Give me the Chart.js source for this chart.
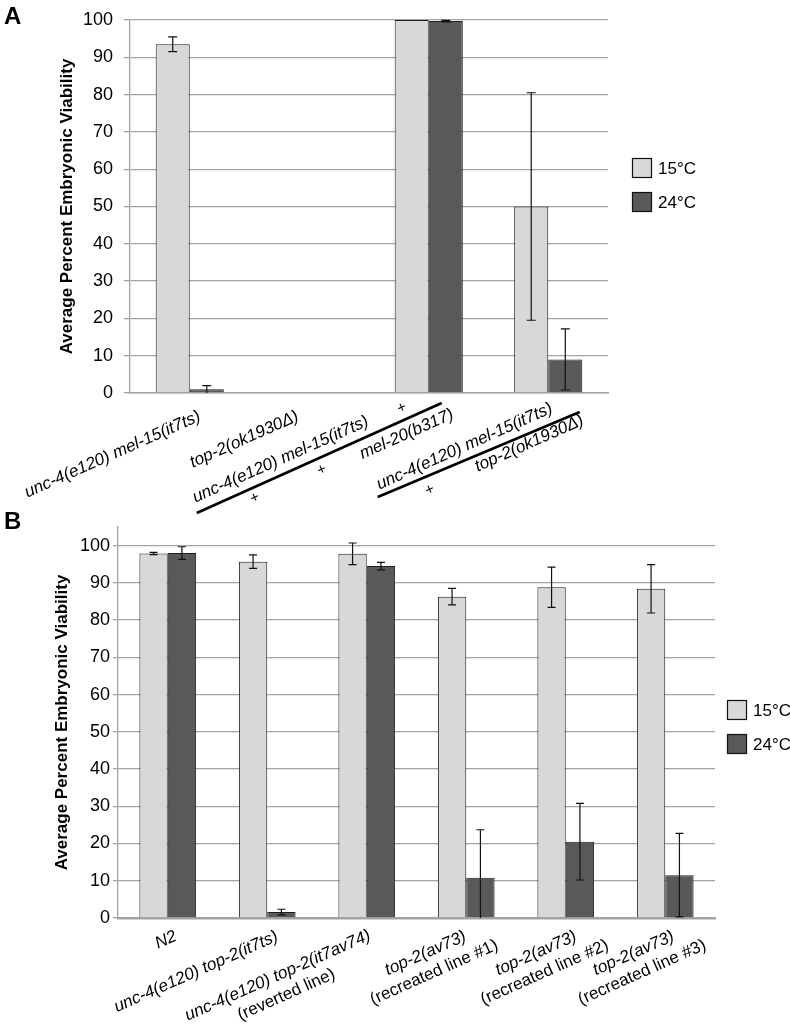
<!DOCTYPE html>
<html>
<head>
<meta charset="utf-8">
<script src="https://cdn.jsdelivr.net/npm/chart.js@4.4.0/dist/chart.umd.min.js"></script>
<style>
  html, body { margin: 0; padding: 0; background: #fff; }
  .wrap { position: absolute; left: 0; width: 790px; }
  .letter { position: absolute; left: 4px; font: bold 24px "Liberation Sans", Arial, sans-serif; color: #000; }
</style>
</head>
<body>
<div class="wrap" style="top:0;height:540px"><canvas id="chartA" width="790" height="540"></canvas></div>
<div class="wrap" style="top:470px;height:559px"><canvas id="chartB" width="790" height="559"></canvas></div>
<div class="letter" style="top:2px">A</div>
<div class="letter" style="top:507px">B</div>
<script>
// ---- data ----
const seriesNames = ['15°C', '24°C'];
const yTicks = [0, 10, 20, 30, 40, 50, 60, 70, 80, 90, 100];

// panel A (fraction labels are split into pieces: genotype text and '+')
const categoriesA = [
    ['unc-4(e120) mel-15(it7ts)'],
    ['top-2(ok1930Δ)'],
    ['unc-4(e120) mel-15(it7ts)', '+', '+', '+', 'mel-20(b317)'],
    ['unc-4(e120) mel-15(it7ts)', '+', 'top-2(ok1930Δ)']
];
const viab15A = [93.5, null, 100, 50];
const err15A  = [2, null, 0, 30.5];
const viab24A = [1, null, 99.7, 9];
const err24A  = [1, null, 0.2, 8.2];

// panel B
const categoriesB = [
    ['N2'],
    ['unc-4(e120) top-2(it7ts)'],
    ['unc-4(e120) top-2(it7av74)', '(reverted line)'],
    ['top-2(av73)', '(recreated line #1)'],
    ['top-2(av73)', '(recreated line #2)'],
    ['top-2(av73)', '(recreated line #3)']
];
const viab15B = [97.9, 95.7, 97.8, 86.3, 88.8, 88.4];
const err15B  = [0.3, 1.8, 2.9, 2.2, 5.4, 6.5];
const viab24B = [98, 1.6, 94.5, 10.8, 20.5, 11.5];
const err24B  = [1.7, 0.75, 1, 12.9, 10.3, 11.2];

// ---- label placement (offsets from category centre / axis line) ----
const placeA = [
    { pieces: [[12, 27, 'right']] },
    { pieces: [[-9.5, 27, 'right']] },
    { pieces: [[-59, 32, 'right'], [-27, 15, 'center'], [-174, 105, 'center'], [-107, 77, 'center'], [26, 25, 'right']],
      bar: [-232, 120, 13, 10] },
    { pieces: [[5.5, 19, 'right'], [-118.5, 97, 'center'], [36.5, 31, 'right']],
      bar: [-170.5, 104, 31.5, 19] }
];
const placeB = [[10, 22], [12, 22], [5, 21], [1, 22], [12, 22], [10, 22]];

const LIGHT = '#d8d8d8';
const DARK = '#595959';
const GRID = '#a3a3a3';
const FAM = '"Liberation Sans", Arial, sans-serif';
const ANGLE = -24 * Math.PI / 180;

Chart.defaults.font.family = FAM;
Chart.defaults.color = '#111';

function rotText(ctx, str, x, y, font, align, baseline) {
    ctx.save();
    ctx.translate(x, y);
    ctx.rotate(ANGLE);
    ctx.font = font;
    ctx.fillStyle = '#000';
    ctx.textAlign = align;
    ctx.textBaseline = baseline;
    ctx.fillText(str, 0, 0);
    ctx.restore();
}

// error bars, clipped at 0 like the original
function errorBarPlugin(capW) {
    return {
        id: 'errorBars',
        afterDatasetsDraw(chart) {
            const ctx = chart.ctx;
            const y = chart.scales.y;
            chart.data.datasets.forEach(function(ds, di) {
                const meta = chart.getDatasetMeta(di);
                meta.data.forEach(function(bar, i) {
                    const v = ds.data[i], e = ds.errors[i];
                    if (v == null || !e) return;
                    const lo = Math.max(v - e, 0);
                    const yt = y.getPixelForValue(v + e);
                    const yb = y.getPixelForValue(lo);
                    ctx.save();
                    ctx.strokeStyle = '#111';
                    ctx.lineWidth = 1.2;
                    ctx.beginPath();
                    ctx.moveTo(bar.x, yt); ctx.lineTo(bar.x, yb);
                    ctx.moveTo(bar.x - capW / 2, yt); ctx.lineTo(bar.x + capW / 2, yt);
                    if (lo > 0) { ctx.moveTo(bar.x - capW / 2, yb); ctx.lineTo(bar.x + capW / 2, yb); }
                    ctx.stroke();
                    ctx.restore();
                });
            });
        }
    };
}

function legendPlugin(lx, ly, gap) {
    return {
        id: 'tempLegend',
        afterDraw(chart) {
            const ctx = chart.ctx;
            chart.data.datasets.forEach(function(ds, i) {
                const top = ly + i * gap;
                ctx.save();
                ctx.fillStyle = ds.backgroundColor;
                ctx.fillRect(lx, top, 20, 20);
                ctx.strokeStyle = '#111';
                ctx.lineWidth = 1.2;
                ctx.strokeRect(lx + 0.5, top + 0.5, 19, 19);
                ctx.font = '17px ' + FAM;
                ctx.fillStyle = '#000';
                ctx.textBaseline = 'middle';
                ctx.fillText(ds.label, lx + 26, top + 11);
                ctx.restore();
            });
        }
    };
}

const labelsA = {
    id: 'labelsA',
    afterDraw(chart) {
        const ctx = chart.ctx;
        const xs = chart.scales.x;
        const base = chart.chartArea.bottom;
        categoriesA.forEach(function(parts, i) {
            const cx = xs.getPixelForValue(i);
            const lay = placeA[i];
            parts.forEach(function(str, k) {
                const p = lay.pieces[k];
                if (str === '+') {
                    rotText(ctx, str, cx + p[0], base + p[1], '15px ' + FAM, 'center', 'middle');
                } else {
                    rotText(ctx, str, cx + p[0], base + p[1], 'italic 17px ' + FAM, p[2], 'alphabetic');
                }
            });
            if (lay.bar) {
                const b = lay.bar;
                ctx.save();
                ctx.strokeStyle = '#000';
                ctx.lineWidth = 2.6;
                ctx.beginPath();
                ctx.moveTo(cx + b[0], base + b[1]);
                ctx.lineTo(cx + b[2], base + b[3]);
                ctx.stroke();
                ctx.restore();
            }
        });
    }
};

const labelsB = {
    id: 'labelsB',
    afterDraw(chart) {
        const ctx = chart.ctx;
        const xs = chart.scales.x;
        const base = chart.chartArea.bottom;
        categoriesB.forEach(function(lines, i) {
            const cx = xs.getPixelForValue(i);
            const p = placeB[i];
            ctx.save();
            ctx.translate(cx + p[0], base + p[1]);
            ctx.rotate(ANGLE);
            ctx.fillStyle = '#000';
            ctx.textBaseline = 'alphabetic';
            ctx.font = 'italic 17px ' + FAM;
            const w1 = ctx.measureText(lines[0]).width;
            ctx.textAlign = 'right';
            ctx.fillText(lines[0], 0, 0);
            ctx.font = '17px ' + FAM;
            ctx.textAlign = 'center';
            for (let k = 1; k < lines.length; k++) {
                ctx.fillText(lines[k], -w1 / 2, k * 21);
            }
            ctx.restore();
        });
    }
};

function makeChart(id, cats, d15, e15, d24, e24, opt) {
    return new Chart(document.getElementById(id).getContext('2d'), {
        type: 'bar',
        data: {
            labels: cats.map(function(c) { return c.join(' '); }),
            datasets: [
                { label: seriesNames[0], data: d15, errors: e15, backgroundColor: LIGHT,
                  borderColor: '#1e1e1e', borderWidth: 1, categoryPercentage: 0.57, barPercentage: 1.0 },
                { label: seriesNames[1], data: d24, errors: e24, backgroundColor: DARK,
                  borderColor: '#1e1e1e', borderWidth: 1, categoryPercentage: 0.57, barPercentage: 1.0 }
            ]
        },
        options: {
            responsive: false,
            animation: false,
            layout: { padding: opt.padding },
            plugins: { legend: { display: false }, tooltip: { enabled: false } },
            scales: {
                x: {
                    grid: { display: false },
                    border: { color: GRID, width: opt.xBorder },
                    ticks: { display: false },
                    afterFit: function(s) { s.height = opt.xHeight; }
                },
                y: {
                    min: 0,
                    max: opt.yMax,
                    ticks: { padding: opt.tickPad, font: { size: 18 }, color: '#000' },
                    afterBuildTicks: function(s) { s.ticks = yTicks.map(function(v) { return { value: v }; }); },
                    grid: { color: GRID, lineWidth: 1.3, tickLength: opt.tickLen },
                    border: { color: GRID, width: 1.3 },
                    title: { display: true, text: 'Average Percent Embryonic Viability',
                             font: { size: 17, weight: 'bold' }, color: '#000' },
                    afterFit: function(s) { s.width = opt.yWidth; s.paddingTop = 0; s.paddingBottom = 0; }
                }
            }
        },
        plugins: [errorBarPlugin(opt.cap), legendPlugin(opt.legX, opt.legY, 34), opt.labels]
    });
}

makeChart('chartA', categoriesA, viab15A, err15A, viab24A, err24A, {
    padding: { left: 53, right: 182, top: 20, bottom: 0 },
    xHeight: 147, yWidth: 77, yMax: 100, tickPad: 11, tickLen: 6, xBorder: 1.5,
    cap: 9, legX: 632, legY: 158, labels: labelsA
});

makeChart('chartB', categoriesB, viab15B, err15B, viab24B, err24B, {
    padding: { left: 48, right: 75, top: 57, bottom: 0 },
    xHeight: 111, yWidth: 70, yMax: 105, tickPad: 3, tickLen: 5, xBorder: 2.5,
    cap: 8, legX: 727, legY: 230, labels: labelsB
});
</script>
</body>
</html>
